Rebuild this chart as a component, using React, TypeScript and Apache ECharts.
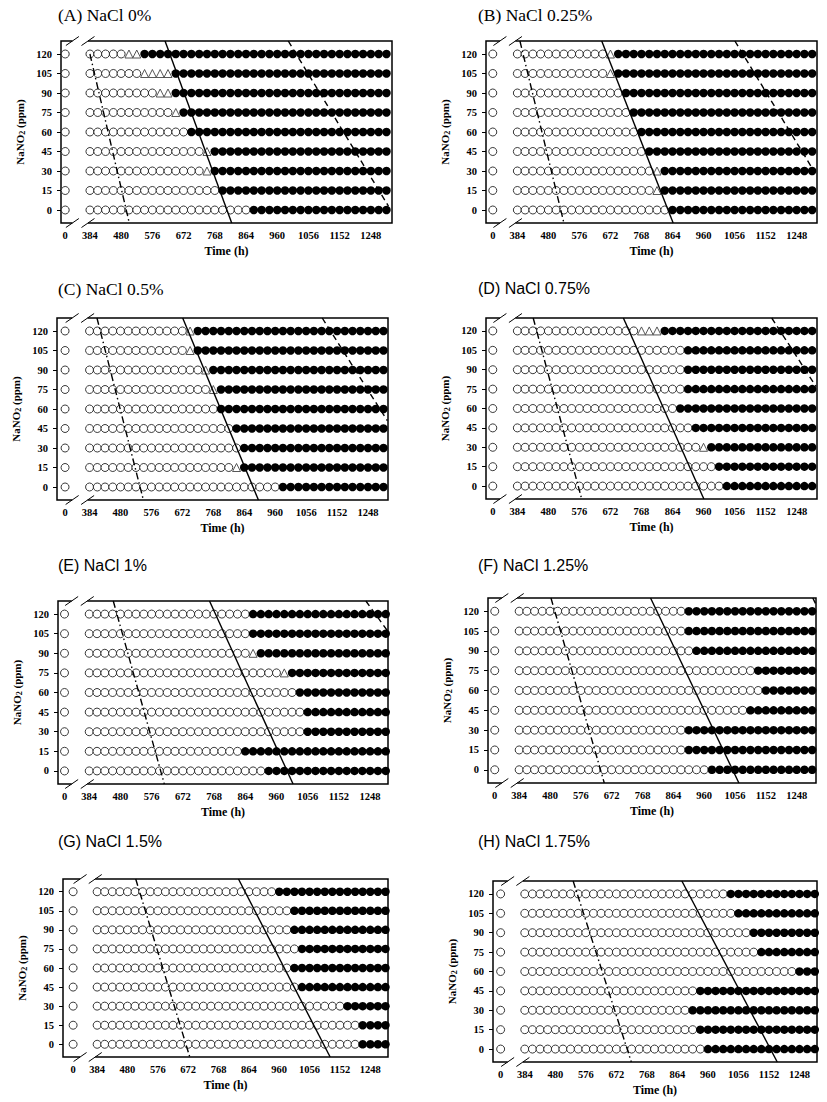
import React, { useEffect, useRef } from "react";
import * as echarts from "echarts";

// ---------------- data ----------------
const NANO2_LEVELS = [0, 15, 30, 45, 60, 75, 90, 105, 120];
const SAMPLE_TIMES = [
  384, 408, 432, 456, 480, 504, 528, 552, 576, 600, 624, 648, 672, 696, 720, 744, 768, 792, 816, 840,
  864, 888, 912, 936, 960, 984, 1008, 1032, 1056, 1080, 1104, 1128, 1152, 1176, 1200, 1224, 1248, 1272, 1296,
];
const TIME_TICKS = [0, 384, 480, 576, 672, 768, 864, 960, 1056, 1152, 1248];
const PPM_TICKS = [0, 15, 30, 45, 60, 75, 90, 105, 120];

const TITLES = [
  "(A) NaCl 0%",
  "(B) NaCl 0.25%",
  "(C) NaCl 0.5%",
  "(D) NaCl 0.75%",
  "(E) NaCl 1%",
  "(F) NaCl 1.25%",
  "(G) NaCl 1.5%",
  "(H) NaCl 1.75%",
];

// first sampling time showing growth (filled circle); rows follow NANO2_LEVELS
const GROWTH_A = [888, 792, 768, 768, 696, 672, 648, 648, 552];
const GROWTH_B = [864, 840, 840, 792, 768, 744, 720, 696, 696];
const GROWTH_C = [984, 864, 864, 840, 792, 792, 768, 720, 720];
const GROWTH_D = [1032, 1008, 984, 936, 888, 912, 912, 912, 840];
const GROWTH_E = [936, 864, 1056, 1056, 1032, 1008, 912, 888, 888];
const GROWTH_F = [984, 912, 912, 1104, 1152, 1128, 936, 912, 912];
const GROWTH_G = [1224, 1224, 1176, 1032, 1008, 1032, 1008, 1008, 960];
const GROWTH_H = [960, 936, 912, 936, 1248, 1128, 1104, 1056, 1032];

// first sampling time showing a triangle (0 = none); rows follow NANO2_LEVELS
const TRIANGLE_A = [0, 0, 744, 744, 0, 648, 600, 552, 504];
const TRIANGLE_B = [0, 816, 816, 0, 0, 0, 0, 672, 672];
const TRIANGLE_C = [0, 840, 0, 0, 0, 768, 744, 696, 696];
const TRIANGLE_D = [0, 0, 960, 0, 0, 0, 0, 0, 768];
const TRIANGLE_E = [0, 0, 0, 0, 0, 984, 888, 0, 0];
const TRIANGLE_F = [0, 0, 0, 0, 0, 0, 0, 0, 0];
const TRIANGLE_G = [0, 0, 0, 0, 0, 0, 0, 0, 0];
const TRIANGLE_H = [0, 0, 0, 0, 0, 0, 0, 0, 0];

// predicted boundary lines [time, ppm] endpoints
const LAG_LINE_A = [[384, 120], [505, -10]];
const GROWTH_LINE_A = [[615, 130], [820, -10]];
const UPPER_LINE_A = [[994, 130], [1302, 3]];
const LAG_LINE_B = [[392, 130], [528, -10]];
const GROWTH_LINE_B = [[645, 130], [866, -10]];
const UPPER_LINE_B = [[1057, 130], [1294, 33]];
const LAG_LINE_C = [[407, 130], [551, -10]];
const GROWTH_LINE_C = [[673, 130], [908, -10]];
const UPPER_LINE_C = [[1106, 130], [1308, 51]];
const LAG_LINE_D = [[433, 130], [583, -10]];
const GROWTH_LINE_D = [[712, 130], [961, -10]];
const UPPER_LINE_D = [[1171, 130], [1308, 77]];
const LAG_LINE_E = [[458, 130], [615, -10]];
const GROWTH_LINE_E = [[754, 130], [1011, -10]];
const UPPER_LINE_E = [[1235, 130], [1302, 107]];
const LAG_LINE_F = [[483, 130], [649, -10]];
const GROWTH_LINE_F = [[793, 130], [1068, -10]];
const UPPER_LINE_F = [[1298, 130], [1308, 125]];
const LAG_LINE_G = [[506, 130], [677, -10]];
const GROWTH_LINE_G = [[831, 130], [1121, -10]];
const UPPER_LINE_G: number[][] = [];
const LAG_LINE_H = [[536, 130], [719, -10]];
const GROWTH_LINE_H = [[878, 130], [1178, -10]];
const UPPER_LINE_H: number[][] = [];

// ---------------- layout ----------------
const ZERO_POS = 308; // where time 0 sits on the broken axis
const BREAK_LEFT = 330;
const BREAK_RIGHT = 378;
const Y_MIN = -10;
const Y_MAX = 130;

const xPos = (t: number) => (t === 0 ? ZERO_POS : t);

const PANELS = [
  { growth: GROWTH_A, tri: TRIANGLE_A, lines: [LAG_LINE_A, GROWTH_LINE_A, UPPER_LINE_A], left: 61, top: 41, width: 331, height: 182, xMin: 295, xMax: 1313, tx: 58, ty: 6, serif: true },
  { growth: GROWTH_B, tri: TRIANGLE_B, lines: [LAG_LINE_B, GROWTH_LINE_B, UPPER_LINE_B], left: 486, top: 41, width: 331, height: 182, xMin: 287, xMax: 1311, tx: 478, ty: 6, serif: true },
  { growth: GROWTH_C, tri: TRIANGLE_C, lines: [LAG_LINE_C, GROWTH_LINE_C, UPPER_LINE_C], left: 57, top: 318, width: 331, height: 182, xMin: 283, xMax: 1310, tx: 58, ty: 280, serif: true },
  { growth: GROWTH_D, tri: TRIANGLE_D, lines: [LAG_LINE_D, GROWTH_LINE_D, UPPER_LINE_D], left: 486, top: 318, width: 331, height: 181, xMin: 287, xMax: 1311, tx: 478, ty: 280, serif: false },
  { growth: GROWTH_E, tri: TRIANGLE_E, lines: [LAG_LINE_E, GROWTH_LINE_E, UPPER_LINE_E], left: 58, top: 601, width: 330, height: 183, xMin: 288, xMax: 1303, tx: 58, ty: 557, serif: false },
  { growth: GROWTH_F, tri: TRIANGLE_F, lines: [LAG_LINE_F, GROWTH_LINE_F, UPPER_LINE_F], left: 488, top: 598, width: 328, height: 185, xMin: 287, xMax: 1308, tx: 478, ty: 557, serif: false },
  { growth: GROWTH_G, tri: TRIANGLE_G, lines: [LAG_LINE_G, GROWTH_LINE_G, UPPER_LINE_G], left: 63, top: 879, width: 325, height: 178, xMin: 276, xMax: 1304, tx: 58, ty: 833, serif: false },
  { growth: GROWTH_H, tri: TRIANGLE_H, lines: [LAG_LINE_H, GROWTH_LINE_H, UPPER_LINE_H], left: 493, top: 881, width: 324, height: 181, xMin: 284, xMax: 1303, tx: 478, ty: 833, serif: false },
];

const SERIF = "Liberation Serif";
const SANS = "Liberation Sans";

function buildOption() {
  const grid: any[] = [];
  const xAxis: any[] = [];
  const yAxis: any[] = [];
  const series: any[] = [];
  const graphic: any[] = [];

  PANELS.forEach((p, i) => {
    graphic.push({
      type: "text",
      left: p.tx,
      top: p.ty,
      silent: true,
      style: {
        text: TITLES[i],
        fontFamily: p.serif ? SERIF : SANS,
        fontSize: p.serif ? 17.5 : 16,
        fontWeight: "normal",
        fill: "#000",
      },
    });
    grid.push({
      left: p.left,
      top: p.top,
      width: p.width,
      height: p.height,
      show: true,
      borderColor: "#000",
      borderWidth: 1.5,
      backgroundColor: "transparent",
      containLabel: false,
    });
    xAxis.push({
      type: "value",
      gridIndex: i,
      min: p.xMin,
      max: p.xMax,
      name: "Time (h)",
      nameLocation: "middle",
      nameGap: 22,
      nameTextStyle: { fontFamily: SERIF, fontWeight: "bold", fontSize: 12, color: "#000" },
      axisLine: { show: false },
      axisTick: { show: false },
      splitLine: { show: false },
      axisLabel: {
        customValues: TIME_TICKS.map(xPos),
        formatter: (v: number) => (v === ZERO_POS ? "0" : String(v)),
        fontFamily: SERIF,
        fontWeight: "bold",
        fontSize: 10.5,
        color: "#000",
        margin: 7,
      },
    });
    yAxis.push({
      type: "value",
      gridIndex: i,
      min: Y_MIN,
      max: Y_MAX,
      name: "{a|NaNO}{s|2}{a| (ppm)}",
      nameLocation: "middle",
      nameRotate: 90,
      nameGap: 35,
      nameTextStyle: {
        rich: {
          a: { fontFamily: SERIF, fontWeight: "bold", fontSize: 11, color: "#000" },
          s: { fontFamily: SERIF, fontWeight: "bold", fontSize: 8, color: "#000", padding: [5, 0, 0, 0] },
        },
      },
      axisLine: { show: false },
      axisTick: { show: true, inside: false, length: 4, customValues: PPM_TICKS, lineStyle: { color: "#000", width: 1 } },
      splitLine: { show: false },
      axisLabel: {
        customValues: PPM_TICKS,
        fontFamily: SERIF,
        fontWeight: "bold",
        fontSize: 10.5,
        color: "#000",
        margin: 9,
      },
    });

    const open: number[][] = [];
    const tris: number[][] = [];
    const filled: number[][] = [];
    NANO2_LEVELS.forEach((lvl, r) => {
      open.push([xPos(0), lvl]);
      const g = p.growth[r];
      const t0 = p.tri[r] || g;
      SAMPLE_TIMES.forEach((t) => {
        if (t >= g) filled.push([t, lvl]);
        else if (t >= t0) tris.push([t, lvl]);
        else open.push([t, lvl]);
      });
    });

    series.push({
      type: "scatter",
      xAxisIndex: i,
      yAxisIndex: i,
      data: open,
      symbol: "circle",
      symbolSize: 8,
      itemStyle: { color: "#fff", borderColor: "#222", borderWidth: 0.9, opacity: 1 },
      z: 2,
      silent: true,
    });
    series.push({
      type: "scatter",
      xAxisIndex: i,
      yAxisIndex: i,
      data: tris,
      symbol: "triangle",
      symbolSize: 8,
      itemStyle: { color: "#fff", borderColor: "#444", borderWidth: 0.9, opacity: 1 },
      z: 2,
      silent: true,
    });
    series.push({
      type: "scatter",
      xAxisIndex: i,
      yAxisIndex: i,
      data: filled,
      symbol: "circle",
      symbolSize: 8.5,
      itemStyle: { color: "#000", opacity: 1 },
      z: 2,
      silent: true,
    });

    const dashes = [[7, 3, 1.5, 3], "solid", [6, 4]];
    p.lines.forEach((ln, k) => {
      if (!ln.length) return;
      series.push({
        type: "line",
        xAxisIndex: i,
        yAxisIndex: i,
        data: ln,
        symbol: "none",
        showSymbol: false,
        lineStyle: { color: "#000", width: 1.4, type: dashes[k] },
        z: 4,
        silent: true,
      });
    });

    // axis-break marks on top and bottom frame
    series.push({
      type: "custom",
      xAxisIndex: i,
      yAxisIndex: i,
      clip: false,
      silent: true,
      z: 6,
      data: [
        [BREAK_LEFT, Y_MAX],
        [BREAK_LEFT, Y_MIN],
      ],
      renderItem: (params: any, api: any) => {
        const y = api.value(1);
        const p1 = api.coord([BREAK_LEFT, y]);
        const p2 = api.coord([BREAK_RIGHT, y]);
        const mark = (x: number, yy: number) => ({
          type: "line",
          shape: { x1: x - 6.5, y1: yy + 4.5, x2: x + 6.5, y2: yy - 4.5 },
          style: { stroke: "#000", lineWidth: 1 },
        });
        return {
          type: "group",
          children: [
            { type: "rect", shape: { x: p1[0], y: p1[1] - 2.5, width: p2[0] - p1[0], height: 5 }, style: { fill: "#fff" } },
            mark(p1[0], p1[1]),
            mark(p2[0], p2[1]),
          ],
        };
      },
    });
  });

  return {
    animation: false,
    backgroundColor: "#fff",
    graphic,
    grid,
    xAxis,
    yAxis,
    series,
  };
}

export default function App() {
  const ref = useRef<HTMLDivElement>(null);
  useEffect(() => {
    if (!ref.current) return;
    const chart = echarts.init(ref.current, undefined, { renderer: "svg" });
    chart.setOption(buildOption() as any);
    return () => chart.dispose();
  }, []);
  return (
    <div
      ref={ref}
      style={{ position: "absolute", left: 0, top: 0, width: 827, height: 1102, background: "#fff" }}
    />
  );
}
